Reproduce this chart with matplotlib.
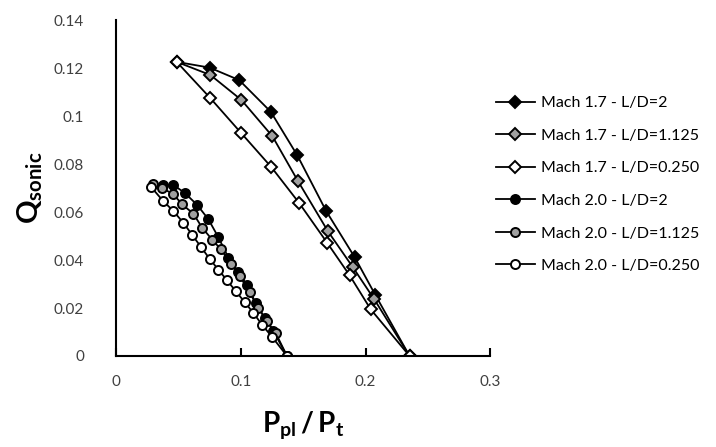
import matplotlib.pyplot as plt

plt.rcParams['font.family'] = ['Lato', 'DejaVu Sans']
plt.rcParams['mathtext.fontset'] = 'custom'
plt.rcParams['mathtext.rm'] = 'Lato'
plt.rcParams['mathtext.bf'] = 'Lato:bold'

# Mach 1.7 series (diamonds)
m17_ld2_x = [0.0486, 0.075, 0.0987, 0.124, 0.1453, 0.1685, 0.1912, 0.2077, 0.2352]
m17_ld2_y = [0.1226, 0.1202, 0.115, 0.1018, 0.0836, 0.0603, 0.0412, 0.0255, 0.0]
m17_ld1125_x = [0.0486, 0.0757, 0.1005, 0.1253, 0.1459, 0.1699, 0.1899, 0.2067, 0.2352]
m17_ld1125_y = [0.1226, 0.1171, 0.1067, 0.0916, 0.0728, 0.0519, 0.0369, 0.0238, 0.0]
m17_ld025_x = [0.0486, 0.0752, 0.1, 0.1245, 0.1467, 0.1693, 0.1872, 0.204, 0.2352]
m17_ld025_y = [0.1226, 0.1077, 0.0931, 0.0787, 0.0638, 0.0471, 0.0336, 0.0195, 0.0]

# Mach 2.0 series (circles)
m20_ld2_x = [0.038, 0.046, 0.055, 0.065, 0.074, 0.082, 0.09, 0.098, 0.105, 0.112, 0.119, 0.126, 0.137]
m20_ld2_y = [0.0712, 0.0713, 0.068, 0.063, 0.057, 0.0495, 0.041, 0.035, 0.0295, 0.022, 0.016, 0.0105, 0.0]
m20_ld1125_x = [0.03, 0.037, 0.046, 0.053, 0.062, 0.069, 0.077, 0.084, 0.092, 0.099, 0.107, 0.114,
                0.121, 0.128, 0.137]
m20_ld1125_y = [0.0715, 0.07, 0.0674, 0.0632, 0.0593, 0.0535, 0.0485, 0.0445, 0.0385, 0.0335, 0.0265,
                0.02, 0.0145, 0.0095, 0.0]
m20_ld025_x = [0.028, 0.0378, 0.0458, 0.054, 0.061, 0.068, 0.075, 0.082, 0.089, 0.096, 0.103, 0.11,
               0.117, 0.125, 0.137]
m20_ld025_y = [0.0705, 0.0646, 0.0605, 0.0555, 0.0505, 0.0455, 0.0405, 0.036, 0.0315, 0.027, 0.0225,
               0.018, 0.013, 0.008, 0.0]

x_ticks = [0, 0.1, 0.2, 0.3]
y_ticks = [0, 0.02, 0.04, 0.06, 0.08, 0.1, 0.12, 0.14]

fig = plt.figure(figsize=(7.16, 4.47), dpi=100)
ax = fig.add_axes([0.162, 0.2036, 0.523, 0.7514])

series = [
    (m17_ld2_x, m17_ld2_y, 'D', 'black', 'Mach 1.7 - L/D=2'),
    (m17_ld1125_x, m17_ld1125_y, 'D', '#a0a0a0', 'Mach 1.7 - L/D=1.125'),
    (m17_ld025_x, m17_ld025_y, 'D', 'white', 'Mach 1.7 - L/D=0.250'),
    (m20_ld2_x, m20_ld2_y, 'o', 'black', 'Mach 2.0 - L/D=2'),
    (m20_ld1125_x, m20_ld1125_y, 'o', '#a0a0a0', 'Mach 2.0 - L/D=1.125'),
    (m20_ld025_x, m20_ld025_y, 'o', 'white', 'Mach 2.0 - L/D=0.250'),
]
for xs, ys, mk, fc, lab in series:
    ms = 6 if mk == 'D' else 6.5
    ax.plot(xs, ys, color='black', lw=1.3, marker=mk, ms=ms, mfc=fc, mec='black', mew=1.4,
            label=lab)

ax.set_xlim(0, 0.3)
ax.set_ylim(0, 0.14)
ax.set_xticks(x_ticks)
ax.set_xticklabels(['0', '0.1', '0.2', '0.3'])
ax.set_yticks(y_ticks)
ax.set_yticklabels(['0', '0.02', '0.04', '0.06', '0.08', '0.1', '0.12', '0.14'])
ax.spines['top'].set_visible(False)
ax.spines['right'].set_visible(False)
ax.spines['left'].set_linewidth(1.5)
ax.spines['bottom'].set_linewidth(1.5)
ax.tick_params(axis='x', direction='in', length=6, width=1.5, labelsize=11, labelcolor='#404040', pad=14)
ax.tick_params(axis='y', length=0, labelsize=11, labelcolor='#404040', pad=23)

ax.set_xlabel(r'$\mathbf{P_{pl}\,/\,P_{t}}$', fontsize=20, labelpad=14)
ax.set_ylabel(r'$\mathbf{Q_{sonic}}$', fontsize=21, labelpad=6)

fig.legend(loc='center left', bbox_to_anchor=(0.693, 0.587), frameon=False, fontsize=11.5,
           handlelength=2.4, handletextpad=0.4, labelspacing=1.15, borderpad=0, borderaxespad=0)

fig.savefig('out.png', dpi=100)
